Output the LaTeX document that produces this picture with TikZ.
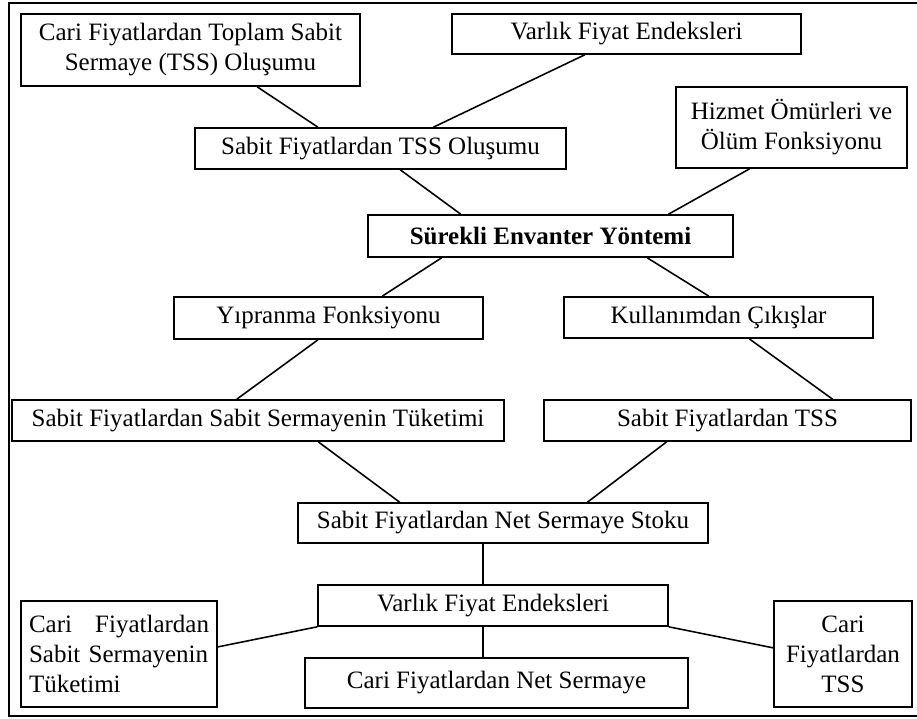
\documentclass[tikz,border=0pt]{standalone}
\usepackage{fontspec}
\setmainfont{Liberation Serif}
\usetikzlibrary{calc}

\begin{document}
\begin{tikzpicture}[x=0.48pt, y=-0.48pt,
  box/.style={draw, line width=0.75pt, inner sep=0pt, align=center,
    font=\fontsize{12}{14.4}\selectfont},
  link/.style={line width=0.75pt}]
  \useasboundingbox (0,0) rectangle (917,718);

  % frame (open on the right)
  \draw[line width=0.9pt] (917,3) -- (9,3) -- (9,716) -- (917,716);

  % boxes
  \node[box, minimum width=162.7pt, minimum height=34.6pt] (cariTop) at (190.5,50)
    {Cari Fiyatlardan Toplam Sabit\\Sermaye (TSS) Oluşumu};
  \node[box, minimum width=167.5pt, minimum height=19.2pt] (varlikTop) at (626.5,34)
    {Varlık Fiyat Endeksleri};
  \node[box, minimum width=110.9pt, minimum height=38.9pt] (hizmet) at (791.5,127.5)
    {Hizmet Ömürleri ve\\Ölüm Fonksiyonu};
  \node[box, minimum width=178.1pt, minimum height=19.7pt] (sabitOlus) at (380.5,148.5)
    {Sabit Fiyatlardan TSS Oluşumu};
  \node[box, minimum width=175.2pt, minimum height=20.2pt] (surekli) at (550.5,236)
    {\bfseries Sürekli Envanter Yöntemi};
  \node[box, minimum width=148.3pt, minimum height=20.2pt] (yipranma) at (328.5,318)
    {Yıpranma Fonksiyonu};
  \node[box, minimum width=148.3pt, minimum height=19.7pt] (kullanim) at (718.5,317.5)
    {Kullanımdan Çıkışlar};
  \node[box, minimum width=236.2pt, minimum height=19.7pt] (sabitTuk) at (258,420.5)
    {Sabit Fiyatlardan Sabit Sermayenin Tüketimi};
  \node[box, minimum width=176.2pt, minimum height=19.7pt] (sabitTSS) at (727.5,420.5)
    {Sabit Fiyatlardan TSS};
  \node[box, minimum width=196.8pt, minimum height=19.2pt] (netStok) at (503,523)
    {Sabit Fiyatlardan Net Sermaye Stoku};
  \node[box, minimum width=168pt, minimum height=19.7pt] (varlikAlt) at (493,605.5)
    {Varlık Fiyat Endeksleri};
  \node[box, minimum width=183.8pt, minimum height=24pt] (cariNet) at (496.5,683)
    {Cari Fiyatlardan Net Sermaye};
  \node[box, minimum width=94.1pt, minimum height=50.9pt, text width=86.4pt, align=left]
    (cariTuk) at (119,654)
    {\hbox to 86.4pt{Cari\hfill Fiyatlardan}\\Sabit Sermayenin\\Tüketimi};
  \node[box, minimum width=66.2pt, minimum height=50.9pt] (cariTSS) at (843,654)
    {Cari\\Fiyatlardan\\TSS};

  % connectors
  \draw[link] ($(cariTop.south west)!0.696!(cariTop.south east)$)
    -- ($(sabitOlus.north west)!0.332!(sabitOlus.north east)$);
  \draw[link] ($(varlikTop.south west)!0.381!(varlikTop.south east)$)
    -- ($(sabitOlus.north west)!0.642!(sabitOlus.north east)$);
  \draw[link] ($(sabitOlus.south west)!0.553!(sabitOlus.south east)$)
    -- ($(surekli.north west)!0.255!(surekli.north east)$);
  \draw[link] ($(hizmet.south west)!0.320!(hizmet.south east)$)
    -- ($(surekli.north west)!0.822!(surekli.north east)$);
  \draw[link] ($(surekli.south west)!0.203!(surekli.south east)$)
    -- ($(yipranma.north west)!0.673!(yipranma.north east)$);
  \draw[link] ($(surekli.south west)!0.764!(surekli.south east)$)
    -- ($(kullanim.north west)!0.469!(kullanim.north east)$);
  \draw[link] ($(yipranma.south west)!0.466!(yipranma.south east)$)
    -- ($(sabitTuk.north west)!0.457!(sabitTuk.north east)$);
  \draw[link] ($(kullanim.south west)!0.599!(kullanim.south east)$)
    -- ($(sabitTSS.north west)!0.785!(sabitTSS.north east)$);
  \draw[link] ($(sabitTuk.south west)!0.622!(sabitTuk.south east)$)
    -- ($(netStok.north west)!0.249!(netStok.north east)$);
  \draw[link] ($(sabitTSS.south west)!0.335!(sabitTSS.south east)$)
    -- ($(netStok.north west)!0.705!(netStok.north east)$);
  \coordinate (stem) at ($(varlikAlt.north west)!0.471!(varlikAlt.north east)$);
  \draw[link] (stem) -- (stem |- netStok.south);
  \draw[link] (stem |- varlikAlt.south) -- (stem |- cariNet.north);
  \draw[link] (varlikAlt.south west)
    -- ($(cariTuk.north east)!0.434!(cariTuk.south east)$);
  \draw[link] (varlikAlt.south east)
    -- ($(cariTSS.north west)!0.443!(cariTSS.south west)$);
\end{tikzpicture}
\end{document}
